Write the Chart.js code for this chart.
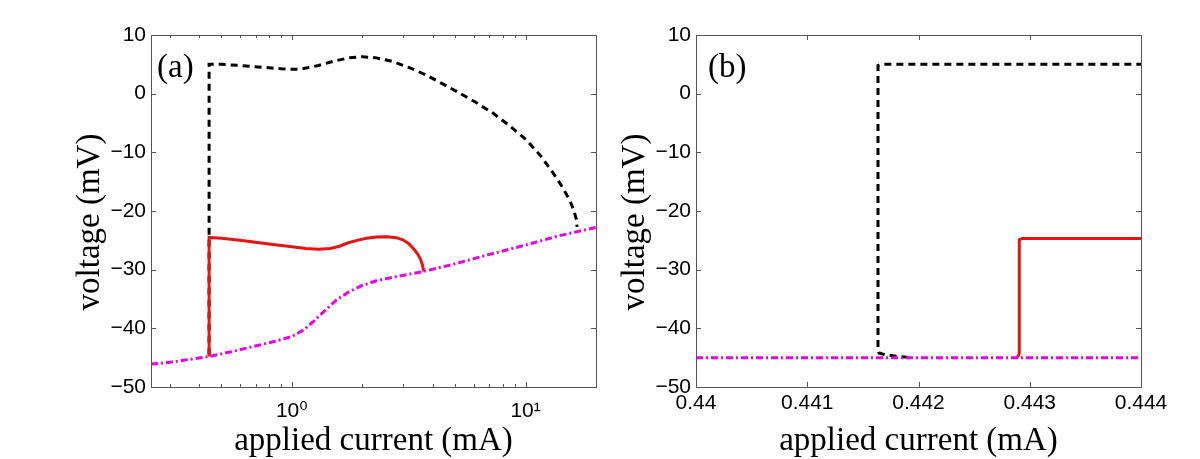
<!DOCTYPE html>
<html>
<head>
<meta charset="utf-8">
<title>voltage vs applied current</title>
<script src="https://cdn.jsdelivr.net/npm/chart.js@4.4.0/dist/chart.umd.min.js"></script>
<style>
  body { margin: 0; background: #fff; }
  #contenedor { position: relative; width: 1200px; height: 459px; }
  canvas { position: absolute; top: 0; }
</style>
</head>
<body>
<div id="contenedor">
  <canvas id="graficaA" width="620" height="459" style="left:0px"></canvas>
  <canvas id="graficaB" width="655" height="459" style="left:545px"></canvas>
</div>
<script>
// ---- Panel (a): eje x logaritmico ----
const aNegroX = [0.443, 0.443, 0.5, 0.6, 0.75, 0.9, 1.0, 1.1, 1.3, 1.5, 1.75, 2.0, 2.3, 2.72, 3.2, 3.77, 4.4, 5.24, 6.2, 7.27, 8.5, 10.1, 11.6, 13.1, 14.4, 15.5, 16.1, 16.5, 16.6];
const aNegroY = [-44.5, 5.0, 5.0, 4.8, 4.5, 4.25, 4.15, 4.2, 4.8, 5.5, 6.1, 6.3, 6.1, 5.45, 4.4, 3.15, 1.7, 0.05, -1.6, -3.35, -5.4, -7.9, -10.6, -13.5, -16.0, -18.3, -20.0, -21.5, -22.7];

const aRojoX = [0.443, 0.443, 0.5, 0.6, 0.83, 1.0, 1.15, 1.3, 1.46, 1.6, 1.72, 1.9, 2.09, 2.3, 2.55, 2.8, 3.0, 3.17, 3.31, 3.45, 3.55, 3.62, 3.67];
const aRojoY = [-44.8, -24.5, -24.65, -25.0, -25.7, -26.1, -26.4, -26.5, -26.4, -26.0, -25.5, -25.0, -24.65, -24.45, -24.4, -24.55, -24.95, -25.6, -26.4, -27.3, -28.2, -29.2, -30.3];

const aMagX = [0.25, 0.3, 0.35, 0.443, 0.55, 0.7, 0.85, 1.0, 1.12, 1.24, 1.4, 1.55, 1.75, 2.0, 2.3, 2.7, 3.1, 3.67, 5, 7, 10, 14, 20];
const aMagY = [-46.1, -45.8, -45.4, -44.8, -44.0, -43.0, -42.2, -41.4, -40.3, -38.8, -36.8, -35.2, -33.8, -32.7, -31.9, -31.3, -30.85, -30.3, -29.0, -27.4, -25.8, -24.2, -22.8];

const aTicksX = [0.3, 0.4, 0.5, 0.6, 0.7, 0.8, 0.9, 1, 2, 3, 4, 5, 6, 7, 8, 9, 10, 20];
const aEtiquetasX = ['', '', '', '', '', '', '', '10\u2070', '', '', '', '', '', '', '', '', '10\u00B9', ''];

// ---- Panel (b): zoom lineal ----
const bNegroX = [0.44191, 0.4418, 0.4417, 0.441645, 0.441636, 0.441636, 0.44166, 0.444];
const bNegroY = [-44.95, -44.75, -44.5, -44.2, -43.0, 4.8, 5.0, 5.0];

const bRojoX = [0.44289, 0.442906, 0.442906, 0.44293, 0.444];
const bRojoY = [-44.9, -44.3, -24.9, -24.7, -24.7];

const bMagX = [0.44, 0.444];
const bMagY = [-45, -45];

const bTicksX = [0.44, 0.441, 0.442, 0.443, 0.444];
const bEtiquetasX = ['0.44', '0.441', '0.442', '0.443', '0.444'];

// ---- Eje y comun ----
const ticksY = [-50, -40, -30, -20, -10, 0, 10];
const etiquetasY = ['\u221250', '\u221240', '\u221230', '\u221220', '\u221210', '0', '10'];

const fuenteTicks = { family: "'Liberation Sans', 'DejaVu Sans', Arial, sans-serif", size: 21 };
const fuenteTitulo = { family: "'Liberation Serif', 'DejaVu Serif', serif", size: 33, lineHeight: 1.1 };

function puntos(xs, ys) {
  return xs.map((x, i) => ({ x: x, y: ys[i] }));
}

// marcas hacia adentro, marco, etiqueta del panel y titulo del eje y
const marcas = {
  id: 'marcas',
  afterDatasetsDraw(chart, args, opts) {
    const { ctx, chartArea: a } = chart;
    const sx = chart.scales.x, sy = chart.scales.y;
    ctx.save();
    ctx.strokeStyle = '#555';
    ctx.lineWidth = 1;
    ctx.beginPath();
    sx.ticks.forEach(t => {
      const px = Math.round(sx.getPixelForValue(t.value)) + 0.5;
      const mayor = opts.log ? Number.isInteger(Math.log10(t.value)) : true;
      const l = mayor ? 5 : 3;
      ctx.moveTo(px, a.bottom); ctx.lineTo(px, a.bottom - l);
      ctx.moveTo(px, a.top); ctx.lineTo(px, a.top + l);
    });
    sy.ticks.forEach(t => {
      const py = Math.round(sy.getPixelForValue(t.value)) + 0.5;
      ctx.moveTo(a.left, py); ctx.lineTo(a.left + 5, py);
      ctx.moveTo(a.right, py); ctx.lineTo(a.right - 5, py);
    });
    ctx.stroke();
    ctx.strokeRect(Math.round(a.left) + 0.5, Math.round(a.top) + 0.5, Math.round(a.right - a.left), Math.round(a.bottom - a.top));

    ctx.fillStyle = '#000';
    ctx.font = fuenteTitulo.size + 'px ' + fuenteTitulo.family;
    ctx.textAlign = 'left';
    ctx.textBaseline = 'alphabetic';
    ctx.fillText(opts.etiqueta, a.left + opts.dxEtiqueta, 77);

    ctx.translate(a.left - 61, (a.top + a.bottom) / 2 + 11);
    ctx.rotate(-Math.PI / 2);
    ctx.textAlign = 'center';
    ctx.textBaseline = 'middle';
    ctx.fillText('voltage (mV)', 0, 0);
    ctx.restore();
  }
};

function crearPanel(id, cfg) {
  const ctx = document.getElementById(id).getContext('2d');
  return new Chart(ctx, {
    type: 'line',
    data: {
      datasets: [
        { data: puntos(cfg.negroX, cfg.negroY), borderColor: '#000', borderWidth: 3, borderDash: [7, 5], order: 3 },
        { data: puntos(cfg.rojoX, cfg.rojoY), borderColor: 'rgb(235,18,18)', borderWidth: 3, order: 2 },
        { data: puntos(cfg.magX, cfg.magY), borderColor: 'rgb(232,0,232)', borderWidth: 3, borderDash: [7, 3, 2, 3], order: 1 }
      ]
    },
    options: {
      responsive: false,
      animation: false,
      parsing: false,
      elements: { point: { radius: 0 }, line: { tension: 0, fill: false } },
      layout: { padding: { left: 0, right: cfg.derecha, top: 35, bottom: 0 } },
      plugins: {
        legend: { display: false },
        tooltip: { enabled: false },
        marcas: { etiqueta: cfg.etiqueta, dxEtiqueta: cfg.dxEtiqueta, log: cfg.tipoX === 'logarithmic' }
      },
      scales: {
        x: {
          type: cfg.tipoX,
          min: cfg.minX,
          max: cfg.maxX,
          afterBuildTicks: s => { s.ticks = cfg.ticksX.map(v => ({ value: v })); },
          afterFit: s => { s.height = 72; },
          grid: { display: false, drawTicks: false },
          border: { display: false },
          ticks: {
            autoSkip: false, maxRotation: 0, minRotation: 0,
            padding: cfg.padX, color: '#000', font: fuenteTicks,
            callback: (v, i) => cfg.etiquetasX[i]
          },
          title: { display: true, text: 'applied current (mA)', color: '#000', font: fuenteTitulo, padding: 0 }
        },
        y: {
          type: 'linear',
          min: -50,
          max: 10,
          afterBuildTicks: s => { s.ticks = ticksY.map(v => ({ value: v })); },
          afterFit: s => { s.width = 151; },
          grid: { display: false, drawTicks: false },
          border: { display: false },
          ticks: { padding: 5, color: '#000', font: fuenteTicks, callback: (v, i) => etiquetasY[i] }
        }
      }
    },
    plugins: [marcas]
  });
}

crearPanel('graficaA', {
  negroX: aNegroX, negroY: aNegroY, rojoX: aRojoX, rojoY: aRojoY, magX: aMagX, magY: aMagY,
  tipoX: 'logarithmic', minX: 0.25, maxX: 20, ticksX: aTicksX, etiquetasX: aEtiquetasX,
  padX: 12, derecha: 24, etiqueta: '(a)', dxEtiqueta: 6
});

crearPanel('graficaB', {
  negroX: bNegroX, negroY: bNegroY, rojoX: bRojoX, rojoY: bRojoY, magX: bMagX, magY: bMagY,
  tipoX: 'linear', minX: 0.44, maxX: 0.444, ticksX: bTicksX, etiquetasX: bEtiquetasX,
  padX: 4, derecha: 59, etiqueta: '(b)', dxEtiqueta: 12
});
</script>
</body>
</html>
